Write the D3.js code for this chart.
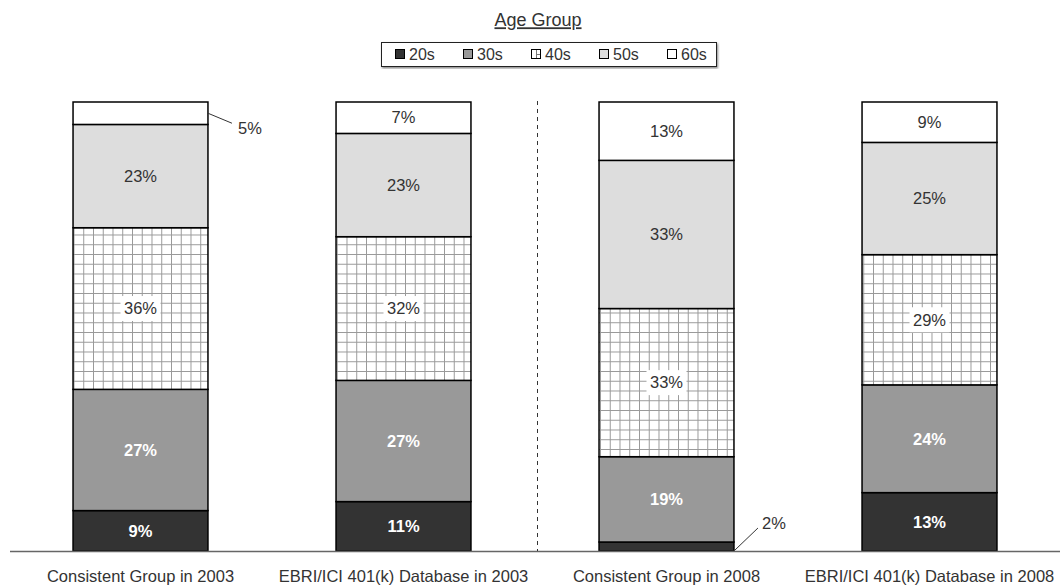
<!DOCTYPE html>
<html>
<head>
<meta charset="utf-8">
<script src="https://cdn.jsdelivr.net/npm/d3@7"></script>
<style>
  body { margin: 0; background: #fff; }
  svg { font-family: "Liberation Sans", Arial, sans-serif; }
</style>
</head>
<body>
<svg id="chart" width="1060" height="588"></svg>
<script>
// data
const categories = [
    'Consistent Group in 2003',
    'EBRI/ICI 401(k) Database in 2003',
    'Consistent Group in 2008',
    'EBRI/ICI 401(k) Database in 2008'
];
const ageGroups = ['20s', '30s', '40s', '50s', '60s'];
const share20s = [9, 11, 2, 13];
const share30s = [27, 27, 19, 24];
const share40s = [36, 32, 33, 29];
const share50s = [23, 23, 33, 25];
const share60s = [5, 7, 13, 9];

const series = [share20s, share30s, share40s, share50s, share60s];

// values too small to label inside the bar get a callout
const callouts = [
    {bar: 0, group: '60s', dx: 24, dy: 10, tx: 42, ty: 15},
    {bar: 2, group: '20s', dx: 24, dy: -23, tx: 40, ty: -28}
];

const fills = {'20s': '#333333', '30s': '#999999', '40s': 'url(#grid)', '50s': '#dddddd', '60s': '#ffffff'};
const labelColor = {'20s': '#ffffff', '30s': '#ffffff', '40s': '#333333', '50s': '#333333', '60s': '#333333'};
const labelWeight = {'20s': 'bold', '30s': 'bold', '40s': 'normal', '50s': 'normal', '60s': 'normal'};

const svg = d3.select('#chart');

// patterns
const defs = svg.append('defs');
const grid = defs.append('pattern')
    .attr('id', 'grid')
    .attr('patternUnits', 'userSpaceOnUse')
    .attr('width', 9.75)
    .attr('height', 9.75)
    .attr('x', 73.5)
    .attr('y', 0.5);
grid.append('rect').attr('width', 9.75).attr('height', 9.75).attr('fill', '#fff');
grid.append('path')
    .attr('d', 'M0,0.5H9.75M0.5,0V9.75')
    .attr('stroke', '#999')
    .attr('stroke-width', 1)
    .attr('shape-rendering', 'crispEdges');

const shadow = defs.append('filter').attr('id', 'shadow');
shadow.append('feDropShadow')
    .attr('dx', 1).attr('dy', 1.5)
    .attr('stdDeviation', 0.8)
    .attr('flood-color', '#888');

// scales
const x = d3.scaleBand()
    .domain(categories)
    .range([9, 1061])
    .paddingInner(0.487)
    .paddingOuter(0.2435);

const y = d3.scaleLinear()
    .domain([0, 100])
    .range([551, 102]);

// stack
const rows = categories.map((c, i) => {
    const r = {category: c};
    ageGroups.forEach((g, j) => { r[g] = series[j][i]; });
    return r;
});
const stacked = d3.stack().keys(ageGroups)(rows);

// bars
const layers = svg.append('g')
    .selectAll('g')
    .data(stacked)
    .join('g');

layers.selectAll('rect')
    .data(d => d.map(v => Object.assign(v, {key: d.key})))
    .join('rect')
    .attr('x', d => x(d.data.category))
    .attr('y', d => y(d[1]))
    .attr('width', x.bandwidth())
    .attr('height', d => y(d[0]) - y(d[1]))
    .attr('fill', d => fills[d.key])
    .attr('stroke', '#000')
    .attr('stroke-width', 1.5);

// labels inside bars
const small = new Set(callouts.map(c => c.bar + '-' + c.group));
const labels = [];
stacked.forEach(layer => {
    layer.forEach((d, i) => {
        if (small.has(i + '-' + layer.key)) return;
        labels.push({key: layer.key, cat: d.data.category, v: d[1] - d[0], mid: (d[0] + d[1]) / 2});
    });
});

const labelG = svg.append('g')
    .selectAll('g')
    .data(labels)
    .join('g')
    .attr('transform', d => `translate(${x(d.cat) + x.bandwidth() / 2},${y(d.mid)})`);

labelG.filter(d => d.key === '40s')
    .append('rect')
    .attr('x', -20)
    .attr('y', -12.5)
    .attr('width', 40)
    .attr('height', 25)
    .attr('fill', '#fff');

labelG.append('text')
    .attr('text-anchor', 'middle')
    .attr('dy', '0.35em')
    .attr('font-size', 16.5)
    .attr('font-weight', d => labelWeight[d.key])
    .attr('fill', d => labelColor[d.key])
    .text(d => d.v + '%');

// callouts
callouts.forEach(c => {
    const layer = stacked.find(s => s.key === c.group);
    const d = layer[c.bar];
    const x0 = x(categories[c.bar]) + x.bandwidth();
    const y0 = c.group === '20s' ? y(d[0]) : y((d[0] + d[1]) / 2);
    svg.append('line')
        .attr('x1', x0).attr('y1', y0)
        .attr('x2', x0 + c.dx).attr('y2', y0 + c.dy)
        .attr('stroke', '#333')
        .attr('stroke-width', 1);
    svg.append('text')
        .attr('x', x0 + c.tx)
        .attr('y', y0 + c.ty)
        .attr('dy', '0.35em')
        .attr('text-anchor', 'middle')
        .attr('font-size', 16.5)
        .attr('fill', '#333')
        .text((d[1] - d[0]) + '%');
});

// baseline
svg.append('line')
    .attr('x1', 10).attr('x2', 1060)
    .attr('y1', 551.5).attr('y2', 551.5)
    .attr('stroke', '#666')
    .attr('stroke-width', 1.5);

// divider between 2003 and 2008
svg.append('line')
    .attr('x1', 537.5).attr('x2', 537.5)
    .attr('y1', 101).attr('y2', 551)
    .attr('stroke', '#333')
    .attr('stroke-width', 1)
    .attr('stroke-dasharray', '4,4');

// category labels
svg.append('g')
    .selectAll('text')
    .data(categories)
    .join('text')
    .attr('x', d => x(d) + x.bandwidth() / 2)
    .attr('y', 576)
    .attr('dy', '0.35em')
    .attr('text-anchor', 'middle')
    .attr('font-size', 16.5)
    .attr('fill', '#333')
    .text(d => d);

// legend
svg.append('text')
    .attr('x', 538)
    .attr('y', 20)
    .attr('dy', '0.35em')
    .attr('text-anchor', 'middle')
    .attr('font-size', 18)
    .attr('fill', '#333')
    .attr('text-decoration', 'underline')
    .text('Age Group');

svg.append('rect')
    .attr('x', 381.5).attr('y', 42.5)
    .attr('width', 335).attr('height', 24)
    .attr('fill', '#fff')
    .attr('stroke', '#222')
    .attr('stroke-width', 1)
    .attr('filter', 'url(#shadow)');

const legendX = d3.scalePoint()
    .domain(ageGroups)
    .range([400, 672]);

const legend = svg.append('g')
    .selectAll('g')
    .data(ageGroups)
    .join('g')
    .attr('transform', d => `translate(${Math.round(legendX(d))},54)`);

legend.append('rect')
    .attr('x', -4.5).attr('y', -4.5)
    .attr('width', 9).attr('height', 9)
    .attr('fill', d => d === '40s' ? '#fff' : fills[d])
    .attr('stroke', '#000')
    .attr('stroke-width', 1);

// small grid glyph for the 40s swatch
legend.filter(d => d === '40s')
    .append('path')
    .attr('d', 'M0,-4V4M0.5,0.5H4')
    .attr('stroke', '#777')
    .attr('stroke-width', 1)
    .attr('shape-rendering', 'crispEdges');

legend.append('text')
    .attr('x', 9)
    .attr('dy', '0.35em')
    .attr('font-size', 16)
    .attr('fill', '#333')
    .text(d => d);
</script>
</body>
</html>
